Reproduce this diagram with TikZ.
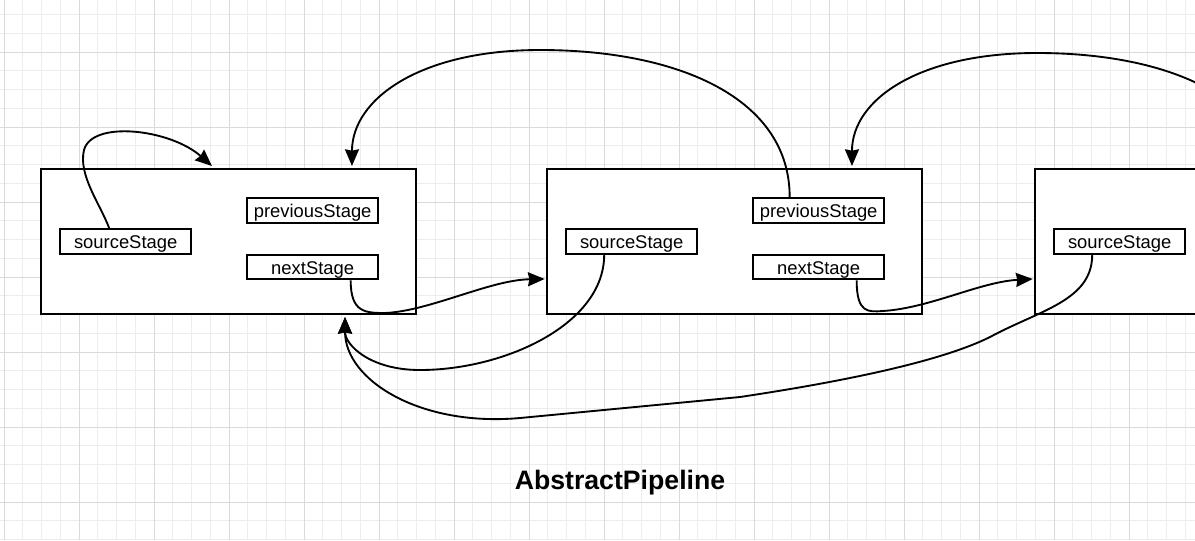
\documentclass[tikz,border=0pt]{standalone}
\usepackage{fontspec}
\setmainfont{Liberation Sans}
\usetikzlibrary{positioning,arrows.meta}
\definecolor{minorgrid}{HTML}{EDEDED}
\definecolor{majorgrid}{HTML}{DADADA}
\tikzset{
  stagebox/.style={draw, line width=1.5pt, fill=white, minimum width=281.25pt, minimum height=108.75pt, inner sep=0pt},
  field/.style={draw, line width=1.5pt, fill=white, minimum width=98.5pt, minimum height=18.5pt, inner sep=0pt,
                text height=11.2pt, text depth=0pt, font=\fontsize{13.8}{16}\selectfont},
  link/.style={-{Stealth[length=12.5pt, width=10.5pt, inset=1pt]}, line width=1.4pt},
  title/.style={font=\fontsize{20}{24}\selectfont\bfseries},
}

\begin{document}
\begin{tikzpicture}[x=0.75pt, y=-0.75pt]
  \useasboundingbox (0,0) rectangle (1195,540);
  \clip (0,0) rectangle (1195,540);
  \fill[white] (0,0) rectangle (1195,540);

  % grid
  \foreach \i in {0,...,63} \draw[minorgrid, line width=0.6pt] ({4+18.75*\i},0) -- ({4+18.75*\i},540);
  \foreach \i in {0,...,28} \draw[minorgrid, line width=0.6pt] (0,{14.5+18.75*\i}) -- (1195,{14.5+18.75*\i});
  \foreach \i in {0,...,15} \draw[majorgrid, line width=0.6pt] ({4+75*\i},0) -- ({4+75*\i},540);
  \foreach \i in {1,...,7} \draw[majorgrid, line width=0.6pt] (0,{-23+75*\i}) -- (1195,{-23+75*\i});

  % stages
  \node[stagebox] (s1) at (228.5,241.5) {};
  \node[stagebox] (s2) [right=96.75pt of s1] {};
  \node[stagebox] (s3) [right=83.25pt of s2] {};

  \node[field] (src1) [below right=45pt and 14.25pt of s1.north west] {sourceStage};
  \node[field] (prev1) [below right=21.75pt and 154.5pt of s1.north west] {previousStage};
  \node[field] (next1) [below=22.5pt of prev1] {nextStage};

  \node[field] (src2) [below right=45pt and 14.25pt of s2.north west] {sourceStage};
  \node[field] (prev2) [below right=21.75pt and 154.5pt of s2.north west] {previousStage};
  \node[field] (next2) [below=22.5pt of prev2] {nextStage};

  \node[field] (src3) [below right=45pt and 14.25pt of s3.north west] {sourceStage};
  \coordinate (prev3) at ([shift={(182.25pt,-21.75pt)}]s3.north west);

  \node[title] (name) at (620,483) {AbstractPipeline};

  % links
  \draw[link] ([xshift=-12.4pt]src1.north) .. controls +(-9,-24) and +(-6,25) .. (84,150)
    .. controls +(8,-30) and +(-42,-37) .. ([xshift=-12.4pt,yshift=1.5pt]s1.north);
  \draw[link] ([xshift=-21.75pt]prev2.north) .. controls +(0,-98) and +(140,0) .. (540,50)
    .. controls +(-120,0) and +(0,-67) .. ([xshift=92.6pt,yshift=1.5pt]s1.north);
  \draw[link] (prev3) .. controls +(0,-98) and +(133,0) .. (1037,53)
    .. controls +(-117,0) and +(0,-67) .. ([xshift=88.1pt,yshift=1.5pt]s2.north);
  \draw[link] ([xshift=28.5pt]next1.south) .. controls +(0,32) and +(-20,0) .. (385,313)
    .. controls +(45,-2) and +(-55,1) .. ([xshift=-1pt,yshift=-28.1pt]s2.west);
  \draw[link] ([xshift=28.5pt]next2.south) .. controls +(0,33) and +(-15,1) .. (883,311)
    .. controls +(47,-3) and +(-53,3) .. ([xshift=-1pt,yshift=-28.1pt]s3.west);
  \draw[link] ([xshift=-20.6pt]src2.south) .. controls +(0,70) and +(84,0) .. (420,370)
    .. controls +(-50,0) and +(0,28) .. ([xshift=87.4pt,yshift=-1.5pt]s1.south);
  \draw[link] ([xshift=-20.6pt]src3.south) .. controls +(0,46) and +(50,-27) .. (990,337)
    .. controls +(-50,25) and +(100,-15) .. (740,397) -- (520,418)
    .. controls +(-100,9) and +(0,63) .. ([xshift=87.4pt,yshift=-1.5pt]s1.south);
\end{tikzpicture}
\end{document}
